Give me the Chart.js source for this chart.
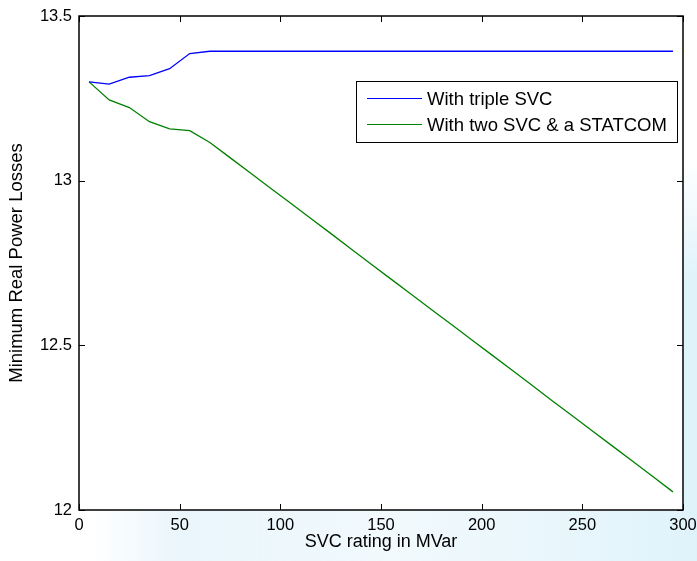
<!DOCTYPE html>
<html>
<head>
<meta charset="utf-8">
<script src="https://cdn.jsdelivr.net/npm/chart.js@4.4.1/dist/chart.umd.min.js"></script>
<style>
html,body{margin:0;padding:0;background:#fff;}
#wrap{width:697px;height:561px;position:relative;}
</style>
</head>
<body>
<div id="wrap"><canvas id="c" width="697" height="561"></canvas></div>
<script>
const svcRating = [5,15,25,35,45,55,65,75,85,95,105,115,125,135,145,155,165,175,185,195,205,215,225,235,245,255,265,275,285,295];
const tripleSVC = [13.300,13.293,13.314,13.319,13.340,13.386,13.393,13.393,13.393,13.393,13.393,13.393,13.393,13.393,13.393,13.393,13.393,13.393,13.393,13.393,13.393,13.393,13.393,13.393,13.393,13.393,13.393,13.393,13.393,13.393];
const twoSVCStatcom = [13.300,13.245,13.222,13.179,13.157,13.152,13.116,13.070,13.024,12.978,12.932,12.886,12.840,12.793,12.747,12.701,12.655,12.609,12.563,12.517,12.471,12.425,12.379,12.332,12.286,12.240,12.194,12.148,12.102,12.055];
const xTickLabels = ['0','50','100','150','200','250','300'];
const yTickLabels = ['12','12.5','13','13.5'];
const seriesNames = ['With triple SVC','With two SVC & a STATCOM'];
const seriesColors = ['#0000ff','#008000'];

const FONT = 'Liberation Sans, Arial, sans-serif';

const bgPlugin = {
  id: 'bg',
  beforeDraw(chart) {
    const {ctx, chartArea: a} = chart;
    ctx.save();
    const g1 = ctx.createLinearGradient(90, 0, 697, 0);
    g1.addColorStop(0, 'rgba(215,238,248,0)');
    g1.addColorStop(0.15, 'rgba(215,238,248,0.55)');
    g1.addColorStop(0.5, 'rgba(225,243,250,0.45)');
    g1.addColorStop(1, 'rgba(215,240,250,0.8)');
    ctx.fillStyle = g1;
    ctx.fillRect(90, a.bottom + 1, 607, 561 - a.bottom);
    const g2 = ctx.createLinearGradient(0, 160, 0, 561);
    g2.addColorStop(0, 'rgba(215,240,250,0)');
    g2.addColorStop(0.3, 'rgba(215,240,250,0.8)');
    g2.addColorStop(1, 'rgba(215,240,250,0.8)');
    ctx.fillStyle = g2;
    ctx.fillRect(a.right + 1, 160, 697 - a.right, a.bottom + 1 - 160);
    ctx.restore();
  }
};

const framePlugin = {
  id: 'frame',
  afterDatasetsDraw(chart) {
    const {ctx, chartArea: a, scales} = chart;
    ctx.save();
    ctx.strokeStyle = '#000';
    ctx.lineWidth = 1;
    ctx.beginPath();
    scales.x.ticks.forEach(t => {
      const px = Math.round(scales.x.getPixelForValue(t.value)) + 0.5;
      ctx.moveTo(px, a.bottom); ctx.lineTo(px, a.bottom - 6);
      ctx.moveTo(px, a.top); ctx.lineTo(px, a.top + 6);
    });
    scales.y.ticks.forEach(t => {
      const py = Math.round(scales.y.getPixelForValue(t.value)) + 0.5;
      ctx.moveTo(a.left, py); ctx.lineTo(a.left + 6, py);
      ctx.moveTo(a.right, py); ctx.lineTo(a.right - 6, py);
    });
    ctx.stroke();
    ctx.lineWidth = 1.5;
    ctx.strokeRect(a.left, a.top, a.right - a.left, a.bottom - a.top);
    // legend
    const bx = 356, by = 81, bw = 321, bh = 61;
    ctx.fillStyle = '#fff';
    ctx.fillRect(bx, by, bw, bh);
    ctx.lineWidth = 1;
    ctx.strokeRect(bx + 0.5, by + 0.5, bw, bh);
    ctx.font = '18.5px ' + FONT;
    ctx.textBaseline = 'middle';
    ctx.textAlign = 'left';
    chart.data.datasets.forEach((ds, i) => {
      const y = 98.5 + i * 26;
      ctx.strokeStyle = ds.borderColor;
      ctx.beginPath();
      ctx.moveTo(367, y); ctx.lineTo(422, y);
      ctx.stroke();
      ctx.fillStyle = '#000';
      ctx.fillText(ds.label, 427, y + 1);
    });
    ctx.restore();
  }
};

new Chart(document.getElementById('c'), {
  type: 'line',
  data: {
    datasets: [
      {label: seriesNames[0], data: svcRating.map((x,i)=>({x, y: tripleSVC[i]})), borderColor: seriesColors[0], borderWidth: 1.3, pointRadius: 0, tension: 0, fill: false},
      {label: seriesNames[1], data: svcRating.map((x,i)=>({x, y: twoSVCStatcom[i]})), borderColor: seriesColors[1], borderWidth: 1.3, pointRadius: 0, tension: 0, fill: false}
    ]
  },
  options: {
    responsive: false,
    animation: false,
    layout: {padding: {top: 16, right: 14, left: 0, bottom: 0}},
    plugins: {legend: {display: false}, tooltip: {enabled: false}},
    scales: {
      x: {
        type: 'linear', min: 0, max: 300,
        afterFit(s) { s.height = 51; s.paddingLeft = 0; s.paddingRight = 0; },
        afterBuildTicks(s) { s.ticks = xTickLabels.map(v => ({value: Number(v)})); },
        grid: {display: false, drawTicks: false},
        border: {display: false},
        ticks: {color: '#000', font: {family: FONT, size: 16.5}, padding: 6, maxRotation: 0, autoSkip: false, callback: (v) => String(v)},
        title: {display: true, text: 'SVC rating in MVar', color: '#000', font: {family: FONT, size: 18}, padding: {top: 0, bottom: 8}}
      },
      y: {
        type: 'linear', min: 12, max: 13.5,
        afterFit(s) { s.width = 79; s.paddingTop = 0; s.paddingBottom = 0; },
        afterBuildTicks(s) { s.ticks = yTickLabels.map(v => ({value: Number(v)})); },
        grid: {display: false, drawTicks: false},
        border: {display: false},
        ticks: {color: '#000', font: {family: FONT, size: 16.5}, padding: 7, autoSkip: false, callback: (v) => String(v)},
        title: {display: true, text: 'Minimum Real Power Losses', color: '#000', font: {family: FONT, size: 18.5}, padding: {top: 6, bottom: 0}}
      }
    }
  },
  plugins: [bgPlugin, framePlugin]
});
</script>
</body>
</html>
